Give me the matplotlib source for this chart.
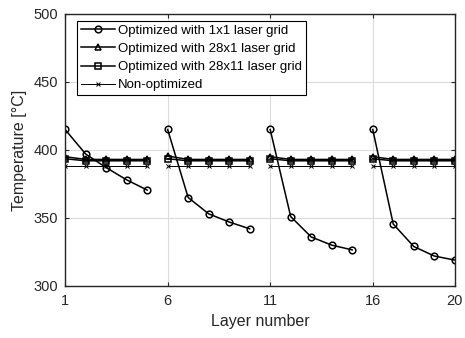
import matplotlib.pyplot as plt
import numpy as np

plt.rcParams['font.family'] = ['Liberation Sans', 'DejaVu Sans']

layers = np.arange(1, 21)
opt_1x1 = [415, 397, 387, 378, 370.5,
           415, 365, 353, 347, 342,
           415, 351, 336, 330, 326.5,
           415, 345.5, 329, 322, 319]
opt_28x1 = [395, 393, 393, 393, 393,
            395.5, 393, 393, 393, 393,
            395, 393, 393, 393, 393,
            395, 393, 393, 393, 393]
opt_28x11 = [393.5, 392, 392, 392, 392,
             393.5, 392, 392, 392, 392,
             393.5, 392, 392, 392, 392,
             393.5, 392, 392, 392, 392]
non_opt = [388.5] * 20

labels = ['Optimized with 1x1 laser grid', 'Optimized with 28x1 laser grid',
          'Optimized with 28x11 laser grid', 'Non-optimized']
series = [opt_1x1, opt_28x1, opt_28x11, non_opt]
styles = [dict(marker='o', ms=4.8, lw=1.1, mfc='none', mew=1.1),
          dict(marker='^', ms=4.8, lw=1.1, mfc='none', mew=1.1),
          dict(marker='s', ms=3.8, lw=1.1, mfc='none', mew=1.1),
          dict(marker='x', ms=3.0, lw=0.7, mew=0.7)]

fig = plt.figure(figsize=(4.65, 3.38), dpi=100)
ax = fig.add_axes([0.14, 0.154, 0.838, 0.805])

for vals, lab, st in zip(series, labels, styles):
    vals = np.array(vals, dtype=float)
    for k in range(4):
        sl = slice(5 * k, 5 * k + 5)
        ax.plot(layers[sl], vals[sl], color='black',
                label=lab if k == 0 else None, **st)

ax.set_xlim(1, 20)
ax.set_ylim(300, 500)
ax.set_xticks([1, 6, 11, 16, 20])
ax.set_yticks([300, 350, 400, 450, 500])
ax.grid(True, color='#dcdcdc', lw=0.8)
ax.set_axisbelow(True)
ax.tick_params(direction='in', top=True, right=True, labelsize=10.5,
               length=3, width=0.8, colors='#262626', labelcolor='#262626')
ax.tick_params(axis='x', pad=6)
ax.tick_params(axis='y', pad=5)
for s in ax.spines.values():
    s.set_linewidth(1.0)
    s.set_color('#262626')
ax.set_xlabel('Layer number', fontsize=11.5, color='#262626', labelpad=4)
ax.set_ylabel('Temperature [°C]', fontsize=11.5, color='#262626', labelpad=5)

leg = ax.legend(loc='upper left', bbox_to_anchor=(0.03, 0.975), fontsize=9.5,
                fancybox=False, edgecolor='black', framealpha=1,
                handlelength=2.6, handletextpad=0.2, labelspacing=0.45,
                borderpad=0.3, borderaxespad=0)
leg.get_frame().set_linewidth(0.8)

fig.savefig('out.png', dpi=100)
